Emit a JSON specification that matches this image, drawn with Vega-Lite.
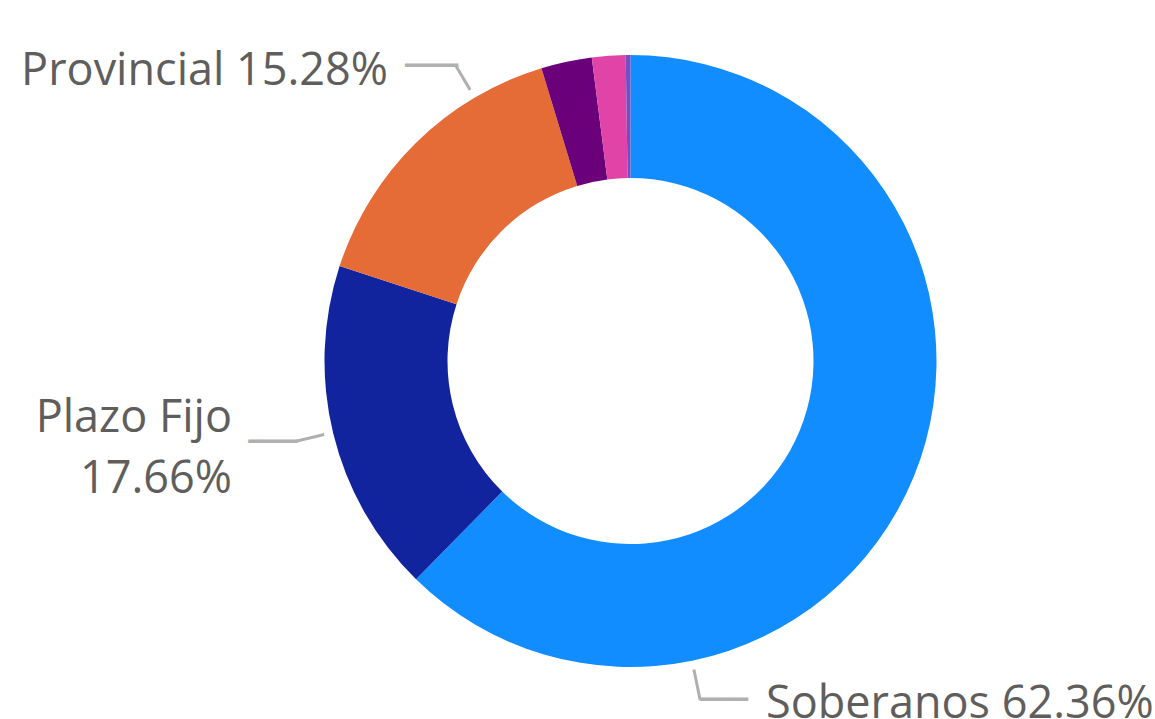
{
  "$schema": "https://vega.github.io/schema/vega-lite/v6.json",
  "width": 1049,
  "height": 716,
  "autosize": "none",
  "padding": {"left": 106, "top": 3, "right": 0, "bottom": 0},
  "background": "white",
  "view": {"stroke": null},
  "data": {
    "values": [
      {"categoria": "Soberanos", "valor": 62.36, "orden": 1},
      {"categoria": "Plazo Fijo", "valor": 17.66, "orden": 2},
      {"categoria": "Provincial", "valor": 15.28, "orden": 3},
      {"categoria": "Acciones", "valor": 2.68, "orden": 4},
      {"categoria": "Obligaciones Negociables", "valor": 1.77, "orden": 5},
      {"categoria": "Otros", "valor": 0.25, "orden": 6}
    ]
  },
  "layer": [
    {
      "mark": {"type": "arc", "radius": 306, "radius2": 183, "stroke": null},
      "encoding": {
        "theta": {"field": "valor", "type": "quantitative", "stack": true},
        "order": {"field": "orden", "type": "quantitative", "sort": "ascending"},
        "color": {
          "field": "categoria",
          "type": "nominal",
          "scale": {
            "domain": ["Soberanos", "Plazo Fijo", "Provincial", "Acciones", "Obligaciones Negociables", "Otros"],
            "range": ["#118DFF", "#12239E", "#E66C37", "#6B007B", "#E044A7", "#744EC2"]
          },
          "legend": null
        }
      }
    },
    {
      "transform": [{"filter": "datum.categoria == 'Provincial'"}],
      "mark": {"type": "arc", "theta": 5.749, "theta2": 5.749, "radius": 343, "radius2": 315, "fill": null, "stroke": "#B0B0B0", "strokeWidth": 3},
      "encoding": {}
    },
    {
      "transform": [{"filter": "datum.categoria == 'Plazo Fijo'"}],
      "mark": {"type": "arc", "theta": 4.477, "theta2": 4.477, "radius": 344, "radius2": 315, "fill": null, "stroke": "#B0B0B0", "strokeWidth": 3},
      "encoding": {}
    },
    {
      "transform": [{"filter": "datum.categoria == 'Soberanos'"}],
      "mark": {"type": "arc", "theta": 2.939, "theta2": 2.939, "radius": 346, "radius2": 315, "fill": null, "stroke": "#B0B0B0", "strokeWidth": 3},
      "encoding": {}
    },
    {
      "transform": [{"filter": "datum.categoria == 'Provincial'"}],
      "mark": {"type": "text", "text": "━━━━", "font": "DejaVu Sans", "fontSize": 22, "align": "right", "baseline": "middle", "dx": -172.5, "dy": -295, "color": "#B0B0B0"},
      "encoding": {}
    },
    {
      "transform": [{"filter": "datum.categoria == 'Plazo Fijo'"}],
      "mark": {"type": "text", "text": "━━━━", "font": "DejaVu Sans", "fontSize": 20.3, "align": "right", "baseline": "middle", "dx": -333.5, "dy": 81, "color": "#B0B0B0"},
      "encoding": {}
    },
    {
      "transform": [{"filter": "datum.categoria == 'Soberanos'"}],
      "mark": {"type": "text", "text": "━━━━", "font": "DejaVu Sans", "fontSize": 20, "align": "left", "baseline": "middle", "dx": 69.5, "dy": 339, "color": "#B0B0B0"},
      "encoding": {}
    },
    {
      "transform": [
        {"filter": "datum.categoria == 'Provincial'"},
        {"calculate": "datum.categoria + ' ' + format(datum.valor, '.2f') + '%'", "as": "etiqueta"}
      ],
      "mark": {"type": "text", "font": "Open Sans", "fontSize": 45, "align": "right", "baseline": "alphabetic", "dx": -242.5, "dy": -276, "color": "#605E5C"},
      "encoding": {"text": {"field": "etiqueta"}}
    },
    {
      "transform": [
        {"filter": "datum.categoria == 'Plazo Fijo'"},
        {"calculate": "[datum.categoria, format(datum.valor, '.2f') + '%']", "as": "etiqueta"}
      ],
      "mark": {"type": "text", "font": "Open Sans", "fontSize": 45, "lineHeight": 61.6, "align": "right", "baseline": "alphabetic", "dx": -398.5, "dy": 70.7, "color": "#605E5C"},
      "encoding": {"text": {"field": "etiqueta"}}
    },
    {
      "transform": [
        {"filter": "datum.categoria == 'Soberanos'"},
        {"calculate": "datum.categoria + ' ' + format(datum.valor, '.2f') + '%'", "as": "etiqueta"}
      ],
      "mark": {"type": "text", "font": "Open Sans", "fontSize": 45, "align": "left", "baseline": "alphabetic", "dx": 135.5, "dy": 356.5, "color": "#605E5C"},
      "encoding": {"text": {"field": "etiqueta"}}
    }
  ]
}
